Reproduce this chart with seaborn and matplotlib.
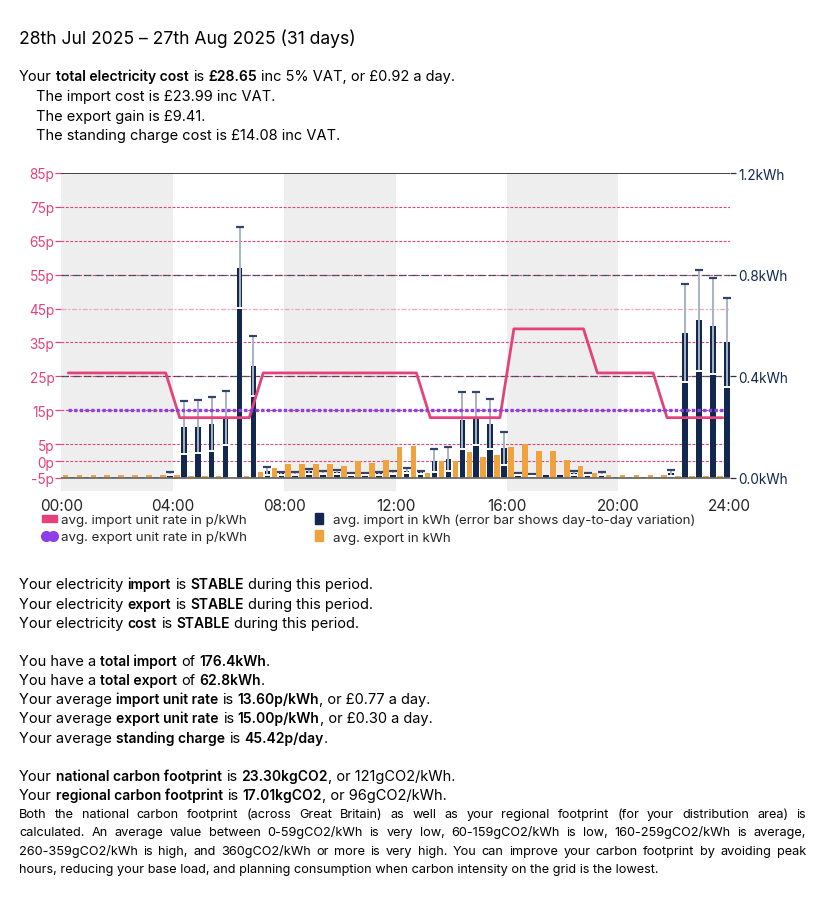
import numpy as np
import pandas as pd
import matplotlib
matplotlib.use('Agg')
import matplotlib.pyplot as plt
import seaborn as sns
from matplotlib.patches import Patch
from matplotlib.lines import Line2D
from matplotlib.font_manager import FontProperties

# half-hour slots
slots = ['%02d:%02d' % (h, m) for h in range(24) for m in (0, 30)]

import_kwh = [0.004, 0.004, 0.004, 0.004, 0.004, 0.004, 0.004, 0.016,
              0.199, 0.202, 0.212, 0.236, 0.827, 0.440, 0.026, 0.018,
              0.016, 0.026, 0.020, 0.024, 0.016, 0.016, 0.019, 0.020,
              0.028, 0.022, 0.068, 0.075, 0.227, 0.235, 0.212, 0.117,
              0.016, 0.012, 0.012, 0.012, 0.021, 0.016, 0.016, 0.005,
              0.005, 0.004, 0.004, 0.020, 0.570, 0.621, 0.598, 0.534]
import_err = [0.0, 0.0, 0.0, 0.0, 0.0, 0.0, 0.0, 0.006,
              0.105, 0.105, 0.107, 0.105, 0.159, 0.117, 0.016, 0.006,
              0.006, 0.010, 0.006, 0.008, 0.005, 0.004, 0.006, 0.006,
              0.010, 0.006, 0.045, 0.047, 0.111, 0.104, 0.097, 0.064,
              0.004, 0.004, 0.0, 0.0, 0.008, 0.005, 0.006, 0.0,
              0.0, 0.0, 0.0, 0.011, 0.193, 0.199, 0.190, 0.176]
export_kwh = [0.012, 0.012, 0.012, 0.012, 0.012, 0.012, 0.012, 0.013,
              0.010, 0.009, 0.008, 0.008, 0.005, 0.008, 0.025, 0.038,
              0.057, 0.055, 0.055, 0.056, 0.047, 0.067, 0.059, 0.071,
              0.122, 0.126, 0.020, 0.067, 0.067, 0.104, 0.083, 0.090,
              0.122, 0.133, 0.107, 0.107, 0.072, 0.047, 0.021, 0.010,
              0.012, 0.012, 0.012, 0.012, 0.008, 0.008, 0.008, 0.008]
import_rate = [26.0] * 8 + [12.8] * 6 + [26.0] * 12 + [12.8] * 6 + [39.0] * 6 + [26.0] * 5 + [12.8] * 5
export_rate = [15.0] * 48

hour_ticks = ['00:00', '04:00', '08:00', '12:00', '16:00', '20:00', '24:00']
rate_ticks = [85, 75, 65, 55, 45, 35, 25, 15, 5, 0, -5]
kwh_ticks = [1.2, 0.8, 0.4, 0.0]
shade_starts = [0, 8, 16]

PINK = '#e4427a'
NAVY = '#13284f'
ORANGE = '#f0a33c'
PURPLE = '#8c3fe6'
ERRC = '#a8b2c6'

sns.set_style('white')
plt.rcParams['font.family'] = ['Inter', 'DejaVu Sans']

W, H = 825, 904
fig = plt.figure(figsize=(W / 100, H / 100), dpi=100)

df = pd.DataFrame({'slot': slots, 'import_kwh': import_kwh, 'import_err': import_err,
                   'export_kwh': export_kwh, 'import_rate': import_rate, 'export_rate': export_rate})
df['start'] = [int(s[:2]) + int(s[3:]) / 60 for s in slots]
df['mid'] = df['start'] + 0.25

x0, x1, ytop, ybot = 61.3, 729.7, 174, 492
ax_p = fig.add_axes([x0 / W, 1 - ybot / H, (x1 - x0) / W, (ybot - ytop) / H])
p_low = -5 - (ybot - 479) * 90 / 305
ax_p.set_xlim(0, 24)
ax_p.set_ylim(p_low, 85)
ax_k = ax_p.twinx()
ax_k.set_ylim((p_low + 5) / 75, 1.2)
ax_l = ax_p.twinx()
ax_l.set_ylim(p_low, 85)
ax_l.set_yticks([])

for a in (ax_p, ax_k, ax_l):
    for s in a.spines.values():
        s.set_visible(False)

# shaded periods
for s in shade_starts:
    ax_p.axvspan(s, s + 4, color='#eeeeee', lw=0, zorder=0)

# rate grid
for v in rate_ticks:
    if v in (85, -5):
        continue
    if v == 45:
        ax_p.axhline(v, color='#f4a3bd', lw=0.9, ls=(0, (4, 1.5, 1.5, 1.5)), zorder=1)
    else:
        ax_p.axhline(v, color=PINK, lw=0.8, ls=(0, (2.5, 1.5)), zorder=1)

# kWh grid
for v in (0.4, 0.8):
    ax_k.axhline(v, color='#3b3f55', lw=0.9, ls=(0, (6, 3)), zorder=1, alpha=0.85)
ax_k.axhline(1.2, color='#333333', lw=1.3, zorder=1)

# bars
ax_k.bar(df['start'] + 0.15, df['export_kwh'], width=0.2, color=ORANGE, lw=0, zorder=2)
ax_k.bar(df['start'] + 0.40, df['import_kwh'], width=0.2, color=NAVY, lw=0, zorder=2)
e = df[df['import_err'] > 0]
ax_k.errorbar(e['start'] + 0.40, e['import_kwh'], yerr=e['import_err'], fmt='none',
              ecolor=ERRC, elinewidth=1.4, capsize=0, zorder=3)
ax_k.plot(e['start'] + 0.40, e['import_kwh'] + e['import_err'], ls='none', marker='_',
          ms=6, mew=1.6, color='#33436a', zorder=4)
ax_k.plot(e['start'] + 0.40, e['import_kwh'] - e['import_err'], ls='none', marker='_',
          ms=6, mew=1.4, color='white', zorder=4)
ax_k.axhline(0, color='#6e6e6e', lw=1.3, zorder=5)

# rate lines
sns.lineplot(data=df, x='mid', y='import_rate', ax=ax_l, color=PINK, lw=2)
sns.lineplot(data=df, x='mid', y='export_rate', ax=ax_l, color=PURPLE, lw=2.4,
             linestyle=(0, (1.0, 0.7)))
ax_l.set_xlabel('')
ax_l.set_ylabel('')
ax_l.set_ylim(p_low, 85)

# ticks
ax_p.set_xticks(range(0, 25, 4))
ax_p.set_xticklabels(hour_ticks, fontsize=11)
ax_p.tick_params(axis='x', length=0, pad=5)
ax_p.set_yticks(rate_ticks)
ax_p.set_yticklabels(['%dp' % v for v in rate_ticks], fontsize=9.8)
ax_p.tick_params(axis='y', length=4, width=0.9, color=PINK, labelcolor=PINK, pad=1)
ax_k.set_yticks(kwh_ticks)
ax_k.set_yticklabels(['%.1fkWh' % v for v in kwh_ticks], fontsize=9.8)
ax_k.tick_params(axis='y', length=4, width=0.9, color='#333333', labelcolor=NAVY, pad=2)

# legends
fig.legend(handles=[Patch(color=PINK), Line2D([], [], ls='none', marker='o', ms=7, color=PURPLE)],
           labels=['avg. import unit rate in p/kWh', 'avg. export unit rate in p/kWh'],
           loc='upper left', bbox_to_anchor=(42 / W, 1 - 514 / H), frameon=False,
           fontsize=9.6, handlelength=1.15, handleheight=0.45, handletextpad=0.25,
           labelspacing=0.32, borderpad=0, borderaxespad=0, numpoints=2)
fig.legend(handles=[Patch(color=NAVY), Patch(color=ORANGE)],
           labels=['avg. import in kWh (error bar shows day-to-day variation)', 'avg. export in kWh'],
           loc='upper left', bbox_to_anchor=(315 / W, 1 - 514 / H), frameon=False,
           fontsize=9.6, handlelength=0.6, handleheight=0.9, handletextpad=0.75,
           labelspacing=0.32, borderpad=0, borderaxespad=0)

# text
renderer = fig.canvas.get_renderer()
BODY, BOLD_BODY = 10.5, 10.0


def fprop(size, bold):
    return FontProperties(size=size, weight='semibold' if bold else 'normal')


def text_w(s, size, bold=False):
    # advance width of s, spaces included
    fp = fprop(size, bold)
    w1 = renderer.get_text_width_height_descent('|' + s + '|', fp, ismath=False)[0]
    w0 = renderer.get_text_width_height_descent('||', fp, ismath=False)[0]
    return w1 - w0


def put(x, y, s, size, bold=False):
    # y is the baseline, in pixels from the top
    fp = fprop(size, bold)
    d = renderer.get_text_width_height_descent(s, fp, ismath=False)[2]
    dlp = renderer.get_text_width_height_descent('lp', fp, ismath=False)[2]
    fig.text(x / W, 1 - (y + max(d, dlp)) / H, s, fontproperties=fp,
             ha='left', va='bottom', color='black')


def rich_line(x, y, segments, size=BODY):
    cur = x
    for s, bold in segments:
        sz = BOLD_BODY if bold else size
        lead = len(s) - len(s.lstrip(' '))
        if lead:
            cur += text_w(' ' * lead, sz, bold)
        if s.strip():
            put(cur, y, s.strip(' '), sz, bold)
        cur += text_w(s.lstrip(' '), sz, bold)


def justify_line(xa, xb, y, line, size):
    words = line.split()
    widths = [text_w(w, size) for w in words]
    gap = (xb - xa - sum(widths)) / (len(words) - 1)
    cur = xa
    for w, wd in zip(words, widths):
        put(cur, y, w, size)
        cur += wd + gap


N = False
B = True
put(19, 44, '28th Jul 2025 \u2013 27th Aug 2025 (31 days)', 12.6)
rich_line(19, 81, [('Your ', N), ('total electricity cost', B), (' is ', N), ('\u00a328.65', B),
                   (' inc 5% VAT, or \u00a30.92 a day.', N)])
rich_line(36, 101, [('The import cost is \u00a323.99 inc VAT.', N)])
rich_line(36, 121, [('The export gain is \u00a39.41.', N)])
rich_line(36, 140, [('The standing charge cost is \u00a314.08 inc VAT.', N)])

rich_line(19, 589, [('Your electricity ', N), ('import', B), (' is ', N), ('STABLE', B), (' during this period.', N)])
rich_line(19, 609, [('Your electricity ', N), ('export', B), (' is ', N), ('STABLE', B), (' during this period.', N)])
rich_line(19, 628, [('Your electricity ', N), ('cost', B), (' is ', N), ('STABLE', B), (' during this period.', N)])

rich_line(19, 666, [('You have a ', N), ('total import', B), (' of ', N), ('176.4kWh', B), ('.', N)])
rich_line(19, 685, [('You have a ', N), ('total export', B), (' of ', N), ('62.8kWh', B), ('.', N)])
rich_line(19, 704, [('Your average ', N), ('import unit rate', B), (' is ', N), ('13.60p/kWh', B),
                    (', or \u00a30.77 a day.', N)])
rich_line(19, 723, [('Your average ', N), ('export unit rate', B), (' is ', N), ('15.00p/kWh', B),
                    (', or \u00a30.30 a day.', N)])
rich_line(19, 743, [('Your average ', N), ('standing charge', B), (' is ', N), ('45.42p/day', B), ('.', N)])

rich_line(19, 781, [('Your ', N), ('national carbon footprint', B), (' is ', N), ('23.30kgCO2', B),
                    (', or 121gCO2/kWh.', N)])
rich_line(19, 800, [('Your ', N), ('regional carbon footprint', B), (' is ', N), ('17.01kgCO2', B),
                    (', or 96gCO2/kWh.', N)])

para = ['Both the national carbon footprint (across Great Britain) as well as your regional footprint (for your distribution area) is',
        'calculated. An average value between 0-59gCO2/kWh is very low, 60-159gCO2/kWh is low, 160-259gCO2/kWh is average,',
        '260-359gCO2/kWh is high, and 360gCO2/kWh or more is very high. You can improve your carbon footprint by avoiding peak']
para_last = 'hours, reducing your base load, and planning consumption when carbon intensity on the grid is the lowest.'
para_size = 9.0 * 643 / text_w(para_last, 9.0)
for i, line in enumerate(para):
    justify_line(19, 806, 818 + i * 18.5, line, para_size)
rich_line(19, 818 + 3 * 18.5, [(para_last, N)], para_size)

fig.savefig('out.png', dpi=100)
